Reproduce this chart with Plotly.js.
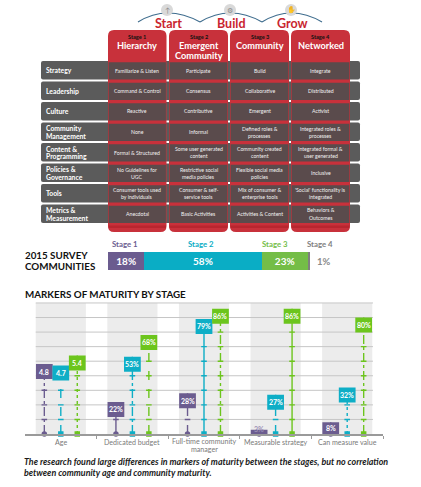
<!DOCTYPE html>
<html><head><meta charset="utf-8">
<script src="https://cdn.plot.ly/plotly-3.0.1.min.js"></script>
<style>html,body{margin:0;padding:0;background:#fff;}#chart{width:421px;height:487px;}</style>
</head><body><div id="chart"></div>
<script>
// ---------- DATA ----------
const phases = ['Start', 'Build', 'Grow'];
const stageLabels = ['Stage 1', 'Stage 2', 'Stage 3', 'Stage 4'];
const stageNames = ['Hierarchy', 'Emergent\nCommunity', 'Community', 'Networked'];
const rowLabels = ['Strategy', 'Leadership', 'Culture', 'Community\nManagement', 'Content &\nProgramming',
  'Policies &\nGovernance', 'Tools', 'Metrics &\nMeasurement'];
const cellsStage1 = ['Familiarize & Listen', 'Command & Control', 'Reactive', 'None', 'Formal & Structured',
  'No Guidelines for\nUGC', 'Consumer tools used\nby individuals', 'Anecdotal'];
const cellsStage2 = ['Participate', 'Consensus', 'Contributive', 'Informal', 'Some user generated\ncontent',
  'Restrictive social\nmedia policies', 'Consumer & self-\nservice tools', 'Basic Activities'];
const cellsStage3 = ['Build', 'Collaborative', 'Emergent', 'Defined roles &\nprocesses', 'Community created\ncontent',
  'Flexible social media\npolicies', 'Mix of consumer &\nenterprise tools', 'Activities & Content'];
const cellsStage4 = ['Integrate', 'Distributed', 'Activist', 'Integrated roles &\nprocesses', 'Integrated formal &\nuser generated',
  'Inclusive', "'Social' functionality is\nintegrated", 'Behaviors &\nOutcomes'];

const surveyTitle = '2015 SURVEY\nCOMMUNITIES';
const surveyShares = [18, 58, 23, 1];

const markersTitle = 'MARKERS OF MATURITY BY STAGE';
const markerCategories = ['Age', 'Dedicated budget', 'Full-time community\nmanager', 'Measurable strategy', 'Can measure value'];
const markersStage1 = [4.8, 22, 28, 3, 8];
const markersStage2 = [4.7, 53, 79, 27, 32];
const markersStage3 = [5.4, 68, 86, 86, 80];
const markerSuffix = ['', '%', '%', '%', '%'];
const markerScale = [10, 1, 1, 1, 1];   // age (years) shown on the x10 scale of the picture
const footnote = 'The research found large differences in markers of maturity between the stages, but no correlation\nbetween community age and community maturity.';

// ---------- STYLE ----------
const W = 421, H = 487, FONT = 'Lato, "Open Sans", sans-serif';
const RED = '#c8313b', DARKRED = '#b8262f';
const stageColors = ['#6b5c8f', '#0eaec6', '#6cc51d', '#808080'];
const surveyColors = ['#6b5c8f', '#0aadc5', '#74bd47', '#7f7f7f'];
const surveyLabelColors = ['#6b5c8f', '#0aadc5', '#74bd47', '#808080'];
const dashes = [['dashdot', 'dash', 'dot'], ['solid', 'dashdot', 'dash'], ['dash', 'solid', 'dashdot'],
  ['solid', 'dash', 'solid'], ['solid', 'dot', 'dashdot']];
const X = px => px / W, Y = py => 1 - py / H;
const shapes = [], ann = [];

function addText(str, x, cy, size, color, o = {}) {
  const arr = str.split('\n'), n = arr.length, ls = o.ls || size * 1.2;
  arr.forEach((t, k) => {
    const yy = cy + (k - (n - 1) / 2) * ls;
    let s = t;
    if (o.italic) s = '<i>' + s + '</i>';
    if (o.bold) s = '<b>' + s + '</b>';
    ann.push({xref: o.xref || 'paper', yref: 'paper', x: o.xref === 'x' ? x : X(x), y: Y(yy), text: s,
      showarrow: false, xanchor: o.anchor || 'center', yanchor: 'middle', borderpad: 0,
      font: {size: size, color: color, family: FONT}});
  });
}
function rect(x0, y0, x1, y1, fill, layer) {
  shapes.push({type: 'rect', xref: 'paper', yref: 'paper', x0: X(x0), x1: X(x1), y0: Y(y1), y1: Y(y0),
    fillcolor: fill, line: {width: 0}, layer: layer || 'below'});
}
function rrect(x0, y0, x1, y1, rt, rb, fill) {
  const P = (a, b) => X(a).toFixed(5) + ',' + Y(b).toFixed(5);
  const d = 'M' + P(x0 + rt, y0) + ' L' + P(x1 - rt, y0) + ' Q' + P(x1, y0) + ' ' + P(x1, y0 + rt) +
    ' L' + P(x1, y1 - rb) + ' Q' + P(x1, y1) + ' ' + P(x1 - rb, y1) + ' L' + P(x0 + rb, y1) +
    ' Q' + P(x0, y1) + ' ' + P(x0, y1 - rb) + ' L' + P(x0, y0 + rt) + ' Q' + P(x0, y0) + ' ' + P(x0 + rt, y0) + ' Z';
  shapes.push({type: 'path', xref: 'paper', yref: 'paper', path: d, fillcolor: fill, line: {width: 0}, layer: 'below'});
}

// ---------- TOP: phases ----------
const arcPts = [[138, 167, 200], [200, 230, 262], [262, 291, 322]];
const icons = ['↑', '⚙', '✋'];
phases.forEach((p, i) => {
  const [a, m, b] = arcPts[i];
  shapes.push({type: 'path', xref: 'paper', yref: 'paper', layer: 'below',
    path: 'M' + X(a) + ',' + Y(22) + ' Q' + X(m) + ',' + Y(4) + ' ' + X(b) + ',' + Y(22),
    line: {color: '#3f6d8e', width: 1.2}});
  shapes.push({type: 'circle', xref: 'paper', yref: 'paper', layer: 'below', x0: X(m - 6), x1: X(m + 6),
    y0: Y(16), y1: Y(4), fillcolor: '#d9d9d9', line: {width: 0}});
  addText(icons[i], m, 10, 7, '#8a8a8a');
  addText(p, m + 1, 23.5, 12.5, '#c9252f', {bold: true});
});

// ---------- TABLE ----------
const colX = [[108, 166.5], [169, 228], [230, 289], [291, 350]];
const rowTop = r => 61 + 20.5 * r, rowH = 18.5;
const cellCols = [cellsStage1, cellsStage2, cellsStage3, cellsStage4];
rowLabels.forEach((lab, r) => rrect(41, rowTop(r), 360, rowTop(r) + rowH, 2, 2, '#5b5b5b'));
colX.forEach(([a, b], c) => {
  rrect(a, 30, b, 232, 6, 6, RED);
  rect(a + 0.5, 225.5, b - 0.5, 228, DARKRED);
  rowLabels.forEach((lab, r) => rect(a + 0.6, rowTop(r) + 1.3, b - 0.6, rowTop(r) + rowH, '#5a4b4c'));
  const cx = (a + b) / 2;
  addText(stageLabels[c], cx, 37, 5.6, '#111', {bold: true});
  const nm = stageNames[c];
  addText(nm, cx, nm.includes('\n') ? 50.5 : 46, 9.2, '#fff', {bold: true, ls: 10.5});
  cellCols[c].forEach((t, r) => addText(t, cx, rowTop(r) + 9.5, 5.2, '#f2f2f2', {ls: 7}));
});
rowLabels.forEach((lab, r) => addText(lab, 45, rowTop(r) + 9.3, 6.8, '#ffffff', {bold: true, anchor: 'left', ls: 7.5}));

// ---------- SURVEY BAR ----------
addText(surveyTitle, 24, 260.5, 9.8, '#111', {bold: true, anchor: 'left', ls: 11.5});
const stageLabelX = [125, 201, 275, 320];
const barTraces = surveyShares.map((v, i) => {
  addText(stageLabels[i], stageLabelX[i], 244, 7.8, surveyLabelColors[i], {bold: true});
  if (i === 3) addText(v + '%', 324, 261, 9.5, '#8a8a8a', {bold: true});
  return {type: 'bar', orientation: 'h', x: [v], y: [0], xaxis: 'x2', yaxis: 'y2', width: 1,
    marker: {color: surveyColors[i], line: {width: 0}},
    text: [i < 3 ? v + '%' : ''], textposition: i < 3 ? 'inside' : 'none', insidetextanchor: 'middle',
    textfont: {color: '#fff', size: 10, family: FONT, weight: 'bold'}, hoverinfo: 'skip', cliponaxis: false};
});

// ---------- MARKERS OF MATURITY ----------
addText(markersTitle, 24, 293.5, 9.8, '#111', {bold: true, anchor: 'left'});
const PXU = 1.456; // pixels per unit on the lollipop axis
markerCategories.forEach((c, i) => {
  shapes.push({type: 'rect', xref: 'x', yref: 'y', x0: i - 0.35, x1: i + 0.35, y0: 0, y1: 90,
    fillcolor: '#ececec', line: {width: 0}, layer: 'below'});
  addText(c, i, c.includes('\n') ? 445.5 : 442, 7.1, '#7a7a7a', {xref: 'x', ls: 7.5});
});
for (let g = 10; g <= 90; g += 10) {
  shapes.push({type: 'line', xref: 'x', yref: 'y', x0: -0.35, x1: 4.36, y0: g, y1: g,
    line: {color: '#c6c6c6', width: 1}, layer: 'below'});
}
const series = [markersStage1, markersStage2, markersStage3];
const offsets = [-0.23, 0, 0.23];
const baseSymbols = ['circle', 'square', 'square'];
const lolliTraces = [];
series.forEach((vals, s) => {
  vals.forEach((v, i) => {
    const val = v * markerScale[i], xc = i + offsets[s];
    const hpx = Math.min(15, val * PXU), hU = hpx / PXU;
    lolliTraces.push({type: 'scatter', mode: 'lines', x: [xc, xc], y: [0, val], xaxis: 'x', yaxis: 'y',
      line: {color: stageColors[s], width: 1.4, dash: dashes[i][s]}, hoverinfo: 'skip'});
    const ty = [];
    for (let g = 10; g < val - hU; g += 10) ty.push(g);
    lolliTraces.push({type: 'scatter', mode: 'markers', x: ty.map(() => xc), y: ty, xaxis: 'x', yaxis: 'y',
      marker: {symbol: 'line-ew', size: 4, line: {color: stageColors[s], width: 1.4}}, hoverinfo: 'skip'});
    lolliTraces.push({type: 'scatter', mode: 'markers', x: [xc], y: [0], xaxis: 'x', yaxis: 'y', cliponaxis: false,
      marker: {symbol: baseSymbols[s], size: 5.5, color: stageColors[s]}, hoverinfo: 'skip'});
    shapes.push({type: 'rect', xref: 'x', yref: 'y', x0: xc - 0.117, x1: xc + 0.117, y0: val - hU, y1: val,
      fillcolor: stageColors[s], line: {width: 0}, layer: 'above'});
    const label = '<b>' + v + markerSuffix[i] + '</b>';
    if (hpx >= 9) {
      ann.push({xref: 'x', yref: 'y', x: xc, y: val - hU / 2, text: label, showarrow: false,
        xanchor: 'center', yanchor: 'middle', font: {size: 7, color: '#fff', family: FONT}});
    } else {
      ann.push({xref: 'x', yref: 'y', x: xc, y: val, yshift: 1, text: label, showarrow: false,
        xanchor: 'center', yanchor: 'middle', font: {size: 7, color: '#9a8fb5', family: FONT}});
    }
  });
});

addText(footnote, 23, 467, 8.9, '#1a1a1a', {bold: true, italic: true, anchor: 'left', ls: 10.5});

// ---------- LAYOUT ----------
const layout = {
  width: W, height: H, margin: {l: 0, r: 0, t: 0, b: 0}, paper_bgcolor: '#fff', plot_bgcolor: 'rgba(0,0,0,0)',
  showlegend: false, font: {family: FONT}, barmode: 'stack', bargap: 0,
  xaxis: {domain: [X(25), X(383)], range: [-0.5, 4.5], showgrid: false, zeroline: false, showline: true,
    linecolor: '#9a9a9a', linewidth: 1.5, ticks: 'outside', tickvals: [0.5, 1.5, 2.5, 3.5, 4.5], ticklen: 3,
    tickcolor: '#9a9a9a', showticklabels: false, fixedrange: true},
  yaxis: {domain: [Y(434), Y(434 - 95 * 1.456)], range: [0, 95], visible: false, showgrid: false, zeroline: false, fixedrange: true},
  xaxis2: {domain: [X(108), X(310)], range: [0, 100], visible: false, anchor: 'y2', fixedrange: true},
  yaxis2: {domain: [Y(270), Y(252)], range: [-0.5, 0.5], visible: false, anchor: 'x2', fixedrange: true},
  shapes: shapes, annotations: ann
};
Plotly.newPlot('chart', barTraces.concat(lolliTraces), layout, {staticPlot: true, displayModeBar: false});
</script></body></html>
